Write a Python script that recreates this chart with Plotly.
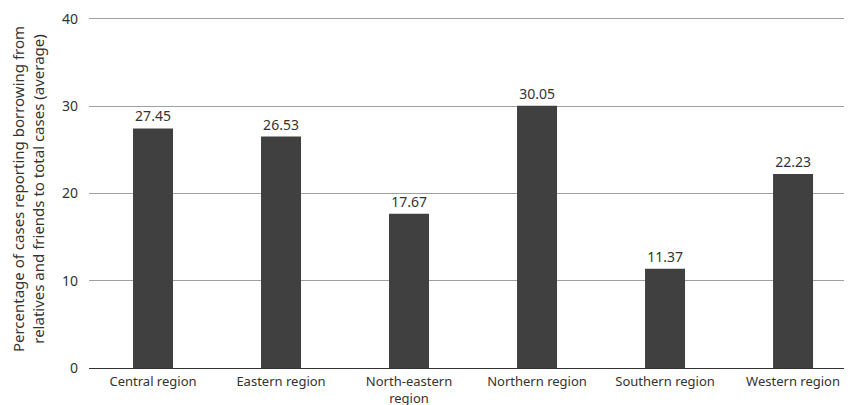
import plotly.graph_objects as go

categories = ["Central region", "Eastern region", "North-eastern<br>region",
              "Northern region", "Southern region", "Western region"]
values = [27.45, 26.53, 17.67, 30.05, 11.37, 22.23]
labels = ["27.45", "26.53", "17.67", "30.05", "11.37", "22.23"]
y_ticks = [0, 10, 20, 30, 40]

FONT = "Noto Sans"

fig = go.Figure(go.Bar(
    x=categories, y=values, text=labels, textposition="outside",
    textfont=dict(family=FONT, size=14, color="#333333"),
    marker=dict(color="#404040", line=dict(color="#404040", width=0)),
    cliponaxis=False, showlegend=False,
))

fig.update_layout(
    width=852, height=405,
    margin=dict(l=81, r=0, t=2, b=45),
    paper_bgcolor="white", plot_bgcolor="white",
    bargap=0.6875,
    font=dict(family=FONT, size=13, color="#333333"),
    xaxis=dict(range=[-0.5, 5.523], showgrid=False, showline=False,
               ticks="", ticklabelstandoff=4,
               tickfont=dict(family=FONT, size=13, color="#333333"),
               automargin=False),
    yaxis=dict(range=[0, 41.03], tickvals=y_ticks, showgrid=True,
               gridcolor="#a0a0a0", gridwidth=1, zeroline=True,
               zerolinecolor="#333333", zerolinewidth=1.3,
               showline=False, ticks="", ticklabelstandoff=10,
               tickfont=dict(family=FONT, size=14, color="#333333"),
               title=dict(text="Percentage of cases reporting borrowing from<br>relatives and friends to total cases (average)",
                          font=dict(family=FONT, size=15, color="#333333"),
                          standoff=14),
               automargin=False),
)

fig.write_html("out.html")
